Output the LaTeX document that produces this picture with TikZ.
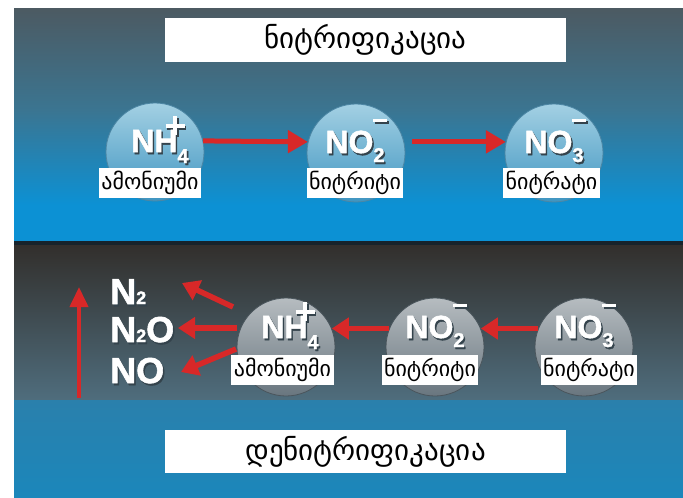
\documentclass[tikz,border=0pt]{standalone}
\usepackage{fontspec}
\setmainfont{DejaVu Sans}
\newfontfamily\geo{DejaVu Sans}
\newfontfamily\chem{Liberation Sans}[FakeBold=1.6]
\usetikzlibrary{arrows.meta}
\definecolor{tA}{HTML}{4C5A62}
\definecolor{tB}{HTML}{3B7591}
\definecolor{tC}{HTML}{0C91D4}
\definecolor{sepc}{HTML}{17232B}
\definecolor{bA}{HTML}{322F2C}
\definecolor{bB}{HTML}{4F6D7D}
\definecolor{bandA}{HTML}{2A80AC}
\definecolor{bandB}{HTML}{1B87BB}
\definecolor{arrred}{HTML}{D82828}
\definecolor{ballTa}{HTML}{A3D0E3}
\definecolor{ballTb}{HTML}{3F95C1}
\definecolor{ballTe}{HTML}{4C86A4}
\definecolor{ballBa}{HTML}{B6BCC0}
\definecolor{ballBb}{HTML}{69767F}
\definecolor{ballBe}{HTML}{4A555C}
\definecolor{shadc}{HTML}{34434C}
\newcommand\plusmk{\makebox[0pt][l]{\raisebox{7.5pt}{\rule{19pt}{4pt}}}\kern7.5pt\rule{4pt}{19pt}\kern7.5pt}
\newcommand\minusmk{\rule{14pt}{3.2pt}}
\newcommand\ionpos[2]{#1\rlap{\kern-12pt\raisebox{17pt}{\plusmk}}\raisebox{-11pt}{\fontsize{20}{20}\selectfont #2}}
\newcommand\ionneg[2]{#1\rlap{\kern0pt\raisebox{31pt}{\minusmk}}\raisebox{-9pt}{\fontsize{20}{20}\selectfont #2}}
\tikzset{
  titlebox/.style={fill=white, inner sep=0pt, minimum width=401pt, font=\geo\fontsize{29}{29}\selectfont, text=black},
  lab/.style={fill=white, inner xsep=2.5pt, inner ysep=0pt, minimum height=30pt, font=\geo\fontsize{22}{22}\selectfont, text=black},
  topball/.style={circle, minimum size=98pt, inner sep=0pt, top color=ballTa, bottom color=ballTb, draw=ballTe, line width=0.8pt},
  botball/.style={circle, minimum size=98pt, inner sep=0pt, top color=ballBa, bottom color=ballBb, draw=ballBe, line width=0.8pt},
  chemf/.style={font=\chem\bfseries\fontsize{32}{32}\selectfont, text=white, inner sep=0pt, anchor=base},
  chems/.style={chemf, text=shadc},
  chemL/.style={font=\chem\bfseries\fontsize{36}{36}\selectfont, text=white, inner sep=0pt, anchor=base west},
  chemLs/.style={chemL, text=shadc},
  arr/.style={draw=arrred, line width=5pt, -{Triangle[length=20pt,width=22pt]}},
  arrb/.style={draw=arrred, line width=5.5pt, -{Triangle[length=17pt,width=21pt]}},
  arrv/.style={draw=arrred, line width=4pt, -{Triangle[length=20pt,width=18pt]}}
}
\begin{document}
\begin{tikzpicture}[x=1pt,y=-1pt]
\useasboundingbox (0,0) rectangle (683,498);
\fill[white] (0,0) rectangle (683,498);
% top panel
\shade[top color=tA, bottom color=tB] (14,8) rectangle (683,110);
\shade[top color=tB, bottom color=tC] (14,109.5) rectangle (683,205);
\fill[tC] (14,204.5) rectangle (683,241);
\fill[sepc] (14,241) rectangle (683,245);
% bottom panel
\shade[top color=bA, bottom color=bB] (14,245) rectangle (683,400);
\shade[top color=bandA, bottom color=bandB] (14,400) rectangle (683,498);

% titles
\node[titlebox, minimum height=44pt] (t1) at (365.5,40) {ნიტრიფიკაცია};
\node[titlebox, minimum height=43pt] (t2) at (365.5,451.5) {დენიტრიფიკაცია};

% nitrification
\node[topball] (c1) at (155,152) {};
\node[topball] (c2) at (356,153) {};
\node[topball] (c3) at (554,153) {};
\node[chems] (s1) at (161.5,154) {\ionpos{NH}{4}};
\node[chemf] (f1) at (160,152) {\ionpos{NH}{4}};
\node[chems] (s2) at (356.5,155) {\ionneg{NO}{2}};
\node[chemf] (f2) at (355,153) {\ionneg{NO}{2}};
\node[chems] (s3) at (555.5,155) {\ionneg{NO}{3}};
\node[chemf] (f3) at (554,153) {\ionneg{NO}{3}};
\node[lab] (l1) at (150,183) {ამონიუმი};
\node[lab] (l2) at (355,183) {ნიტრიტი};
\node[lab] (l3) at (551.5,183) {ნიტრატი};
\draw[arr] (c1.13) -- (c2.167);
\draw[arr, shorten <=8pt] (c2.13) -- (c3.167);

% denitrification
\node[botball] (d1) at (286,347) {};
\node[botball] (d2) at (435,347) {};
\node[botball] (d3) at (584,347) {};
\node[chems] (u1) at (291.5,340) {\ionpos{NH}{4}};
\node[chemf] (g1) at (290,338) {\ionpos{NH}{4}};
\node[chems] (u2) at (436.5,340) {\ionneg{NO}{2}};
\node[chemf] (g2) at (435,338) {\ionneg{NO}{2}};
\node[chems] (u3) at (585.5,340) {\ionneg{NO}{3}};
\node[chemf] (g3) at (584,338) {\ionneg{NO}{3}};
\node[lab] (m1) at (282.5,370) {ამონიუმი};
\node[lab] (m2) at (430,370) {ნიტრიტი};
\node[lab] (m3) at (589,370) {ნიტრატი};
\draw[arrb] (d3.158) -- (d2.22);
\draw[arrb] (d2.158) -- (d1.22);

% products
\node[chemLs] (p1s) at (111.5,306) {N{\fontsize{18}{18}\selectfont 2}};
\node[chemL] (p1) at (110,304) {N{\fontsize{18}{18}\selectfont 2}};
\node[chemLs] (p2s) at (111.5,344) {N{\fontsize{18}{18}\selectfont 2}O};
\node[chemL] (p2) at (110,342) {N{\fontsize{18}{18}\selectfont 2}O};
\node[chemLs] (p3s) at (111.5,385) {NO};
\node[chemL] (p3) at (110,383) {NO};

\coordinate (o1) at (233,307);
\coordinate (e1) at (182,283);
\coordinate (o2) at (237,328);
\coordinate (e2) at (178,328);
\coordinate (o3) at (236,349);
\coordinate (e3) at (181,372);
\draw[arrb] (o1) -- (e1);
\draw[arrb] (o2) -- (e2);
\draw[arrb] (o3) -- (e3);

\coordinate (v0) at (79,398);
\coordinate (v1) at (79,287);
\draw[arrv] (v0) -- (v1);
\end{tikzpicture}
\end{document}
